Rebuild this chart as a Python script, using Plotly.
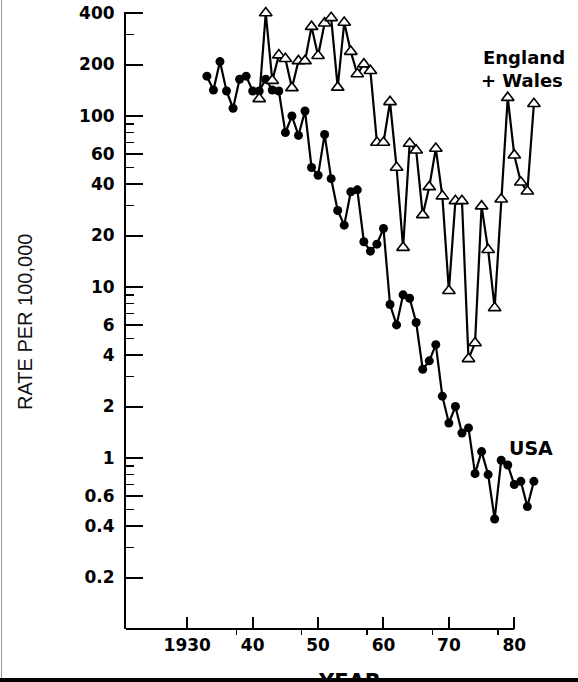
import plotly.graph_objects as go

# ---------------- data ----------------
usa_years = list(range(1933, 1984))
usa_rate = [171, 142, 208, 140, 111, 164, 171, 140, 140, 164, 142, 140, 80, 100, 77, 107,
            50, 45, 78, 43, 28, 23, 36, 37, 18.4, 16.2, 17.8, 22, 7.9, 6.0, 9.0, 8.6, 6.2,
            3.3, 3.7, 4.6, 2.3, 1.6, 2.0, 1.4, 1.5, 0.81, 1.09, 0.80, 0.44, 0.97, 0.91,
            0.70, 0.73, 0.52, 0.73]

ew_years = list(range(1941, 1984))
ew_rate = [126, 400, 161, 227, 216, 146, 210, 210, 333, 225, 349, 375, 147, 352, 238, 176,
           201, 184, 70, 70, 121, 50, 17, 69, 63, 26.4, 38.5, 64.6, 34, 9.5, 31.9, 31.9,
           3.8, 4.7, 29.7, 16.5, 7.55, 32.6, 128, 59, 41, 36.3, 118]

x_tick_vals = [1930, 1940, 1950, 1960, 1970, 1980]
x_tick_text = ["1930", "40", "50", "60", "70", "80"]
x_minor_vals = [1937.5, 1947.5, 1957.5, 1967.5, 1977.5]

y_tick_vals = [0.2, 0.4, 0.6, 1, 2, 4, 6, 10, 20, 40, 60, 100, 200, 400]
y_tick_text = ["0.2", "0.4", "0.6", "1", "2", "4", "6", "10", "20", "40", "60", "100", "200", "400"]
y_minor_vals = [0.3, 0.5, 0.7, 0.8, 0.9, 3, 5, 7, 8, 9, 30, 50, 70, 80, 90, 300]

# ---------------- figure ----------------
W, H = 578, 682
L, R, T, B = 126, 0, 12, 53
plot_w = W - L - R
plot_h = H - T - B
px_per_year = 6.54
x0 = 1920.63
x1 = x0 + plot_w / px_per_year
y_lo = -1.0
y_hi = y_lo + plot_h / 171.0

def px_to_paper_x(px):
    return (px - L) / plot_w

def px_to_paper_y(py):
    return (H - B - py) / plot_h

fig = go.Figure()

fig.add_trace(go.Scatter(
    x=usa_years, y=usa_rate, mode="lines+markers", name="USA",
    line=dict(color="black", width=2.2),
    marker=dict(symbol="circle", size=9, color="black"),
    showlegend=False, cliponaxis=False,
))
fig.add_trace(go.Scatter(
    x=ew_years, y=ew_rate, mode="lines+markers", name="England + Wales",
    line=dict(color="black", width=2.2),
    marker=dict(symbol="triangle-up", size=11, color="white",
                line=dict(color="black", width=1.6)),
    showlegend=False, cliponaxis=False,
))

tick_font = dict(family="DejaVu Sans", size=17, color="black", weight="bold")

fig.update_xaxes(
    range=[x0, x1], showline=False, showgrid=False, zeroline=False,
    tickmode="array", tickvals=x_tick_vals, ticktext=x_tick_text,
    ticks="inside", ticklen=12, tickwidth=2, tickcolor="black",
    tickfont=tick_font, ticklabelstandoff=4, automargin=False,
    minor=dict(tickmode="array", tickvals=x_minor_vals, ticks="outside",
               ticklen=5, tickwidth=1.5, tickcolor="black", showgrid=False),
)
fig.update_yaxes(
    type="log", range=[y_lo, y_hi], showline=True, linecolor="black", linewidth=2,
    showgrid=False, zeroline=False,
    tickmode="array", tickvals=y_tick_vals, ticktext=y_tick_text,
    ticks="inside", ticklen=17, tickwidth=2, tickcolor="black",
    tickfont=tick_font, ticklabelstandoff=6, automargin=False,
    minor=dict(tickmode="array", tickvals=y_minor_vals, ticks="inside",
               ticklen=8, tickwidth=1.5, tickcolor="black", showgrid=False),
)

label_font = dict(family="DejaVu Sans", size=18, color="black", weight="bold")

annotations = [
    dict(text="England", xref="paper", yref="paper",
         x=px_to_paper_x(481), y=px_to_paper_y(58), xanchor="left", yanchor="middle",
         showarrow=False, font=label_font),
    dict(text="+ Wales", xref="paper", yref="paper",
         x=px_to_paper_x(479), y=px_to_paper_y(80), xanchor="left", yanchor="middle",
         showarrow=False, font=label_font),
    dict(text="USA", xref="paper", yref="paper",
         x=px_to_paper_x(507), y=px_to_paper_y(448), xanchor="left", yanchor="middle",
         showarrow=False, font=dict(family="DejaVu Sans", size=19, color="black", weight="bold")),
    dict(text="RATE PER 100,000", xref="paper", yref="paper",
         x=px_to_paper_x(25), y=px_to_paper_y(322), xanchor="center", yanchor="middle",
         textangle=-90, showarrow=False,
         font=dict(family="Liberation Sans", size=20, color="#111")),
    dict(text="YEAR", xref="paper", yref="paper",
         x=px_to_paper_x(349), y=px_to_paper_y(668), xanchor="center", yanchor="top",
         showarrow=False, font=dict(family="DejaVu Sans", size=21, color="black", weight="bold")),
]

shapes = [
    # x-axis line ends at 1980
    dict(type="line", xref="x", yref="paper", x0=x0, x1=1980, y0=0, y1=0,
         line=dict(color="black", width=2), layer="above"),
    # thin scan border on the left
    dict(type="line", xref="paper", yref="paper",
         x0=px_to_paper_x(1.5), x1=px_to_paper_x(1.5), y0=px_to_paper_y(0), y1=px_to_paper_y(678),
         line=dict(color="#999", width=1), layer="above"),
    # black bar along the bottom
    dict(type="rect", xref="paper", yref="paper",
         x0=px_to_paper_x(-5), x1=px_to_paper_x(W + 5), y0=px_to_paper_y(678), y1=px_to_paper_y(H + 10),
         fillcolor="black", line=dict(width=0), layer="above"),
]

fig.update_layout(
    width=W, height=H,
    margin=dict(l=L, r=R, t=T, b=B, pad=0),
    paper_bgcolor="white", plot_bgcolor="white",
    annotations=annotations, shapes=shapes,
    showlegend=False,
)

fig.write_html(
    "out.html",
    config={"displayModeBar": False, "staticPlot": True},
    post_script="document.body.style.margin='0';document.body.style.padding='0';"
                "document.documentElement.style.overflow='hidden';",
)
